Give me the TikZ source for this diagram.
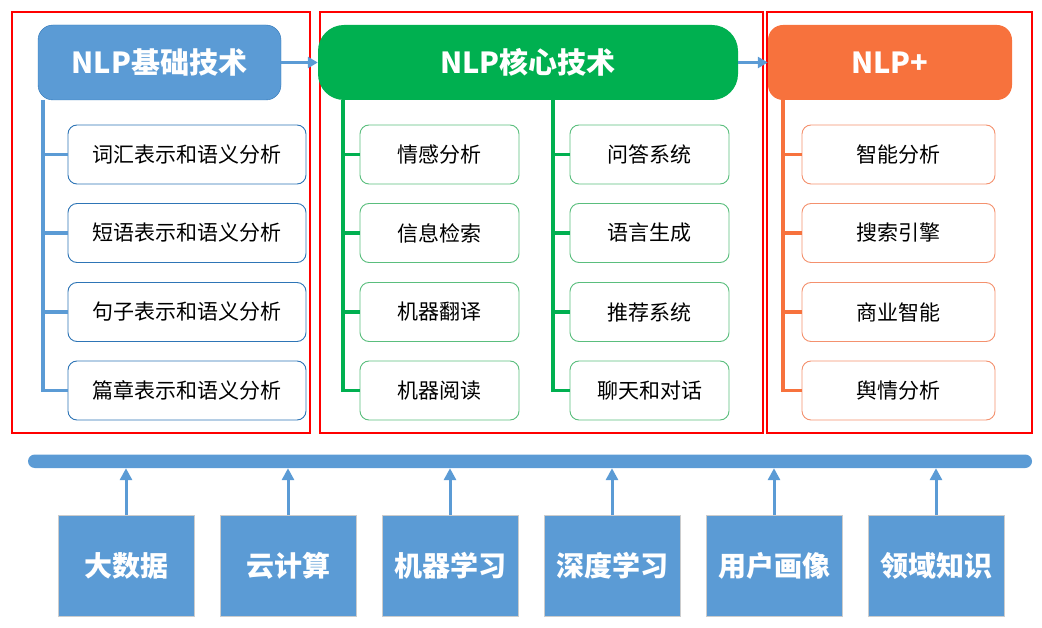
\documentclass[tikz,border=0pt]{standalone}
\usepackage{fontspec}
\setmainfont{Noto Sans CJK SC}
\usetikzlibrary{arrows.meta}
\definecolor{sininen}{RGB}{91,155,213}
\definecolor{sinireuna}{RGB}{46,117,182}
\definecolor{vihrea}{RGB}{0,176,80}
\definecolor{vihreareuna}{RGB}{90,190,125}
\definecolor{oranssi}{RGB}{247,114,61}
\definecolor{oranssireuna}{RGB}{244,145,110}

\begin{document}
\begin{tikzpicture}[x=1pt,y=-1pt,
  otsikko/.style={rounded corners=15pt, minimum height=75pt, text=white,
    font=\fontsize{29}{32}\selectfont\bfseries, inner sep=0pt},
  kohta/.style={draw, rounded corners=9pt, minimum height=59pt, fill=white, text=black,
    line width=0.9pt, font=\fontsize{21}{24}\selectfont, inner sep=0pt},
  pohja/.style={draw=gray!40, fill=sininen, minimum width=136pt, minimum height=101pt,
    text=white, font=\fontsize{28}{30}\selectfont\bfseries, inner sep=0pt},
  haara/.style={line width=3.5pt},
  nuoli/.style={sininen, line width=3pt, -{Triangle[width=12pt,length=12pt]}}]
\useasboundingbox (0,0) rectangle (1042,628);
\newcommand\kohta[4]{
\node[kohta, minimum width=#4] (#1) at (#2) {#3};
}
% red frames
\path[draw,red,line width=1.3pt] (12,12) rectangle (310,433);
\path[draw,red,line width=1.3pt] (320,12) rectangle (763,433);
\path[draw,red,line width=1.3pt] (767,12) rectangle (1032,433);
% headers
\node[otsikko, fill=sininen, draw=sinireuna, minimum width=243pt] (perus) at (159.5,62.5) {NLP基础技术};
\node[otsikko, fill=vihrea, rounded corners=26pt, minimum width=420pt] (ydin) at (528,62.5) {NLP核心技术};
\node[otsikko, fill=oranssi, minimum width=244pt] (plus) at (890,62.5) {NLP+};
\draw[nuoli, line width=3pt, -{Triangle[width=11pt,length=10pt]}] (perus.east) -- (ydin.west);
\draw[nuoli, line width=3pt, -{Triangle[width=11pt,length=10pt]}] (ydin.east) -- (plus.west);
\begin{scope}[sinireuna]
\kohta{a1}{187,154.5}{词汇表示和语义分析}{238pt}
\kohta{a2}{187,233}{短语表示和语义分析}{238pt}
\kohta{a3}{187,312}{句子表示和语义分析}{238pt}
\kohta{a4}{187,390.5}{篇章表示和语义分析}{238pt}
\coordinate (ra) at (43,100);
\path[draw,haara,sininen] (ra) |- (a4.west);
\foreach \i in {1,2,3}
  \path[draw,haara,sininen] (a\i.west -| ra) -- (a\i.west);
\end{scope}
\begin{scope}[vihreareuna]
\kohta{b1}{439.5,154.5}{情感分析}{159pt}
\kohta{b2}{439.5,233}{信息检索}{159pt}
\kohta{b3}{439.5,312}{机器翻译}{159pt}
\kohta{b4}{439.5,390.5}{机器阅读}{159pt}
\kohta{c1}{649.5,154.5}{问答系统}{159pt}
\kohta{c2}{649.5,233}{语言生成}{159pt}
\kohta{c3}{649.5,312}{推荐系统}{159pt}
\kohta{c4}{649.5,390.5}{聊天和对话}{159pt}
\coordinate (rb) at (343,100);
\coordinate (rc) at (553,100);
\path[draw,haara,vihrea] (rb) |- (b4.west);
\path[draw,haara,vihrea] (rc) |- (c4.west);
\foreach \i in {1,2,3} {
  \path[draw,haara,vihrea] (b\i.west -| rb) -- (b\i.west);
  \path[draw,haara,vihrea] (c\i.west -| rc) -- (c\i.west);
}
\end{scope}
\begin{scope}[oranssireuna]
\kohta{d1}{898.5,154.5}{智能分析}{193pt}
\kohta{d2}{898.5,233}{搜索引擎}{193pt}
\kohta{d3}{898.5,312}{商业智能}{193pt}
\kohta{d4}{898.5,390.5}{舆情分析}{193pt}
\coordinate (rd) at (783,100);
\path[draw,haara,oranssi] (rd) |- (d4.west);
\foreach \i in {1,2,3}
  \path[draw,haara,oranssi] (d\i.west -| rd) -- (d\i.west);
\end{scope}
% base bar and bottom boxes
\node[fill=sininen, rounded corners=6.75pt, minimum width=1004pt, minimum height=13.5pt, inner sep=0pt] (palkki) at (530,461.25) {};
\foreach \x/\t [count=\i] in {126/大数据,288/云计算,450/机器学习,612/深度学习,774/用户画像,936/领域知识} {
  \node[pohja] (p\i) at (\x,566) {\t};
  \draw[nuoli] (p\i.north) -- (p\i.north |- palkki.south);
}
\end{tikzpicture}
\end{document}
